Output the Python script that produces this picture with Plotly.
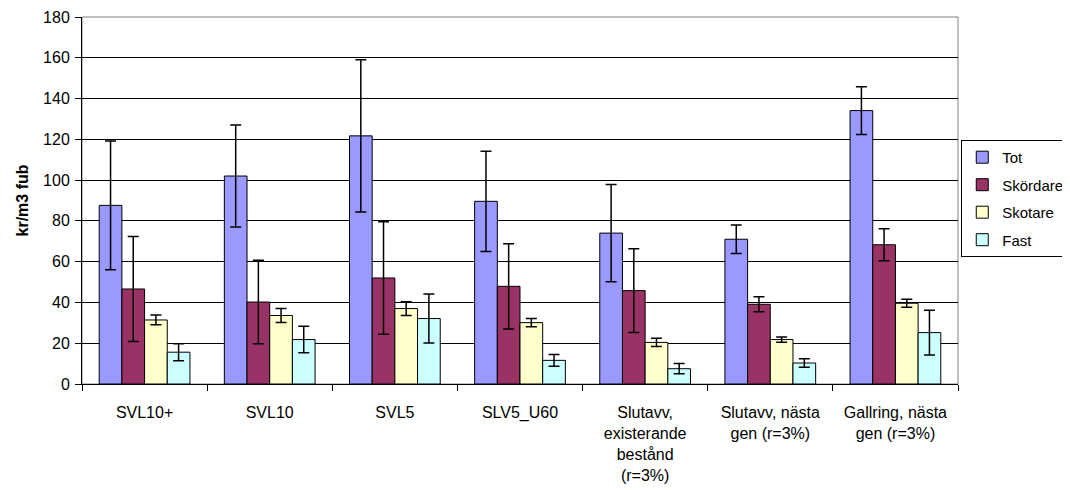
import plotly.graph_objects as go

categories = ["SVL10+", "SVL10", "SVL5", "SLV5_U60",
              "Slutavv,<br>existerande<br>bestånd<br>(r=3%)",
              "Slutavv, nästa<br>gen (r=3%)",
              "Gallring, nästa<br>gen (r=3%)"]

series_names = ["Tot", "Skördare", "Skotare", "Fast"]
tot = [87.6, 102.0, 121.7, 89.6, 74.0, 71.0, 134.1]
tot_err = [31.6, 25.0, 37.3, 24.6, 23.8, 7.0, 11.7]
skordare = [46.6, 40.2, 52.0, 47.9, 45.8, 39.1, 68.3]
skordare_err = [25.7, 20.5, 27.6, 20.9, 20.5, 3.7, 7.8]
skotare = [31.4, 33.6, 37.0, 30.1, 20.4, 21.8, 39.6]
skotare_err = [2.4, 3.4, 3.4, 2.0, 2.0, 1.3, 2.0]
fast = [15.6, 21.8, 32.1, 11.6, 7.5, 10.3, 25.2]
fast_err = [4.2, 6.5, 12.0, 2.9, 2.5, 2.1, 11.0]

values = [tot, skordare, skotare, fast]
errors = [tot_err, skordare_err, skotare_err, fast_err]
colors = ["#9999FF", "#993366", "#FFFFCC", "#CCFFFF"]

FONT = "Liberation Sans, Arial, sans-serif"

fig = go.Figure()
for name, vals, errs, col in zip(series_names, values, errors, colors):
    fig.add_trace(go.Bar(
        name=name, x=categories, y=vals, legendgroup=name,
        marker=dict(color=col, line=dict(color="#000000", width=1)),
        error_y=dict(type="data", array=errs, visible=True,
                     color="#000000", thickness=1.5, width=5.5),
    ))

fig.update_layout(
    width=1062, height=482,
    margin=dict(l=74, r=112, t=9, b=106, autoexpand=False),
    paper_bgcolor="white", plot_bgcolor="white",
    barmode="group", bargap=0.275, bargroupgap=0,
    font=dict(family=FONT, size=16, color="#000000"),
    legend=dict(x=1.127, y=0.665, xanchor="right", yanchor="top",
                bordercolor="#000000", borderwidth=1,
                font=dict(size=15), tracegroupgap=5,
                itemwidth=30, bgcolor="white"),
    showlegend=True,
    shapes=[dict(type="rect", xref="paper", yref="paper", x0=0, x1=1, y0=0, y1=1,
                 line=dict(color="#808080", width=1), layer="below")],
)

fig.update_xaxes(
    type="category", showline=True, linecolor="#000000", linewidth=1,
    ticks="outside", tickson="boundaries", ticklen=6, tickcolor="#000000",
    tickfont=dict(size=16), showgrid=False, ticklabelstandoff=14,
    automargin=False,
)
fig.update_yaxes(
    range=[0, 180], dtick=20, showline=True, linecolor="#000000", linewidth=1,
    ticks="outside", ticklen=6, tickcolor="#000000",
    showgrid=True, gridcolor="#000000", gridwidth=1,
    tickfont=dict(size=16), ticklabelstandoff=2, zeroline=False,
    ticklabeloverflow="allow",
    automargin=False,
    title=dict(text="<b>kr/m3 fub</b>", font=dict(size=16), standoff=10),
)

fig.write_html("out.html")
